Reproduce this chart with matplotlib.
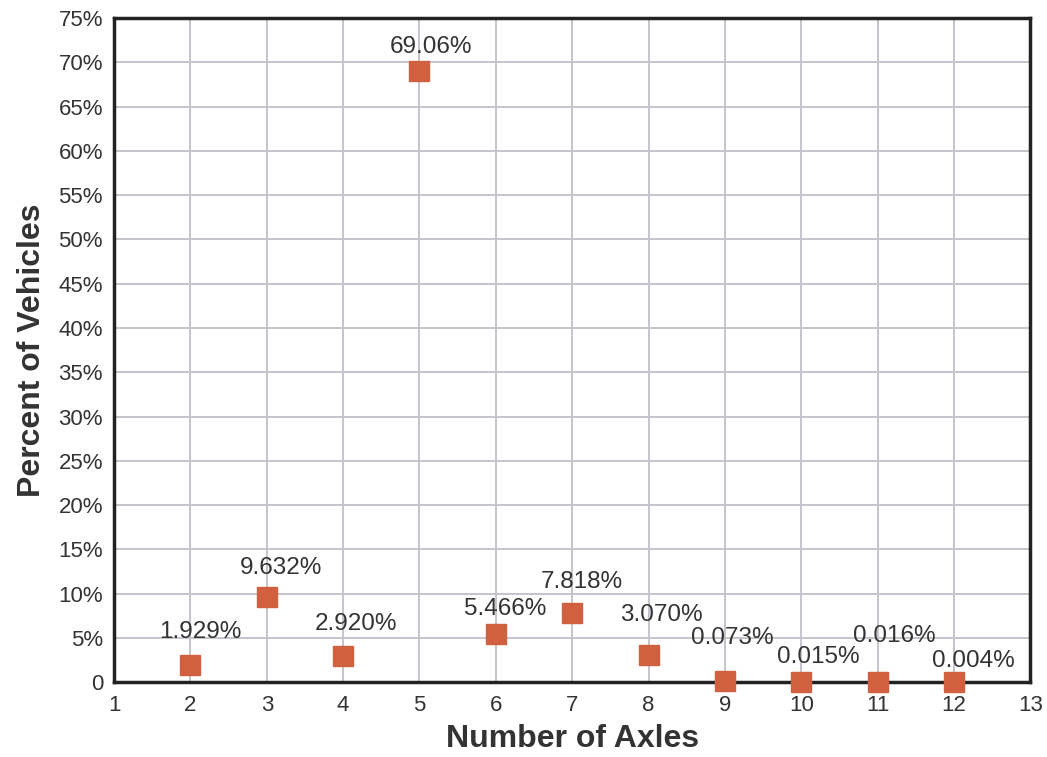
import matplotlib.pyplot as plt
from matplotlib.ticker import FuncFormatter

# data
axles = [2, 3, 4, 5, 6, 7, 8, 9, 10, 11, 12]
percent = [1.929, 9.632, 2.920, 69.06, 5.466, 7.818, 3.070, 0.073, 0.015, 0.016, 0.004]
labels = ["1.929%", "9.632%", "2.920%", "69.06%", "5.466%", "7.818%",
          "3.070%", "0.073%", "0.015%", "0.016%", "0.004%"]

# label offsets in points (dx, dy) relative to each marker
label_offsets = [(7, 24), (10, 21), (9, 23), (8, 17), (7, 18), (7, 22),
                 (9, 29), (5, 31), (12, 18), (12, 33), (14, 15)]

plt.rcParams['font.family'] = ['Liberation Sans', 'DejaVu Sans']
TEXT = "#333333"

fig = plt.figure(figsize=(10.47, 7.57), dpi=100)
ax = fig.add_axes([0.109, 0.099, 0.875, 0.877])

ax.plot(axles, percent, linestyle="none", marker="s", markersize=14,
        color="#d0603f", clip_on=False, zorder=5)

for x, y, lab, (dx, dy) in zip(axles, percent, labels, label_offsets):
    ax.annotate(lab, (x, y), xytext=(dx, dy), textcoords="offset points",
                ha="center", va="center", fontsize=17.5, color=TEXT, zorder=6)

ax.set_xlim(1, 13)
ax.set_ylim(0, 75)
ax.set_xticks(range(1, 14))
ax.set_yticks(range(0, 80, 5))
ax.yaxis.set_major_formatter(FuncFormatter(lambda v, p: "0" if v == 0 else f"{v:.0f}%"))
ax.tick_params(length=0, labelsize=16, labelcolor=TEXT)
ax.tick_params(axis="x", pad=9)
ax.tick_params(axis="y", pad=8)

ax.grid(True, color="#c4c4cc", linewidth=1.4)
ax.set_axisbelow(True)
for s in ax.spines.values():
    s.set_linewidth(2.5)
    s.set_color("#222222")
    s.set_zorder(4)

ax.set_xlabel("Number of Axles", fontsize=23, fontweight="bold", color=TEXT, labelpad=6)
ax.set_ylabel("Percent of Vehicles", fontsize=23, fontweight="bold", color=TEXT, labelpad=8)

fig.savefig("out.png", dpi=100)
